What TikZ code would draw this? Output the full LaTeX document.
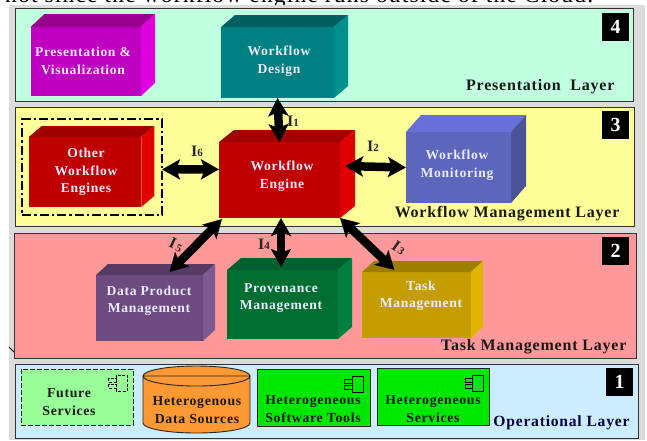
\documentclass[tikz,border=0pt]{standalone}
\usepackage{fontspec}
\setmainfont[LetterSpace=5]{Liberation Serif}
\usetikzlibrary{arrows.meta}
\definecolor{pagegray}{HTML}{DCDCDC}
\definecolor{layerfour}{HTML}{C0FFE0}
\definecolor{layerthree}{HTML}{FFFF99}
\definecolor{layertwo}{HTML}{FF9999}
\definecolor{layerone}{HTML}{CCECFF}
\tikzset{layer/.style = {draw=black!80,line width=0.9pt,inner sep=0,outer sep=0}}
\tikzset{block/.style = {inner sep=0,outer sep=0}}
\tikzset{blocktext/.style = {text=white!92!blue,align=center,font=\fontsize{13.6}{17.5}\selectfont\bfseries}}
\tikzset{darktext/.style = {text=black!90,align=center,font=\fontsize{13.8}{17.5}\selectfont\bfseries}}
\tikzset{layername/.style = {text=black!90,anchor=east,font=\fontsize{16}{18}\selectfont\bfseries}}
\tikzset{number/.style = {fill=black,text=white,inner sep=0,minimum width=27,minimum height=28,font=\fontsize{20}{20}\selectfont\bfseries}}
\tikzset{service/.style = {draw=black!85,line width=0.9pt,inner sep=0,outer sep=0}}
\tikzset{iface/.style = {text=black!85,font=\fontsize{16}{16}\selectfont\bfseries}}
\tikzset{bigarrow/.style = {{Stealth[length=18pt,width=20pt,inset=4pt]}-{Stealth[length=18pt,width=20pt,inset=4pt]},line width=8.5pt,black}}
\tikzset{pics/compicon/.style = {code = {
	\draw[line width=0.8pt] (-3.5,-8) rectangle (7.5,8);
	\draw[line width=0.8pt] (-11,-5) rectangle (-3.5,-1);
	\draw[line width=0.8pt] (-11,1) rectangle (-3.5,5);
}}}

\begin{document}
\begin{tikzpicture}[x=1pt,y=-1pt]
		\useasboundingbox (0,0) rectangle (647,440);
		\clip (0,0) rectangle (647,440);
		\node[anchor=base west,inner sep=0,font=\fontsize{23.5}{24}\selectfont] (caption) at (5,2) {not since the workflow engine runs outside of the Cloud.};
		\fill[pagegray] (9,5) rectangle (645,440);
		\draw[line width=0.8pt] (9,347) -- (14,352);

		% layers
		\node[layer,fill=layerfour,minimum width=617.5,minimum height=93] (presentation) at (324.25,54.5) {};
		\node[layer,fill=layerthree,minimum width=618.5,minimum height=119] (management) at (324.75,166.5) {};
		\node[layer,fill=layertwo,minimum width=622,minimum height=125] (task) at (325.5,295.5) {};
		\node[layer,fill=layerone,minimum width=622.5,minimum height=74] (operational) at (326.75,401) {};
		\node[number] (four) at (615.5,27) {4};
		\node[number] (three) at (615.5,125) {3};
		\node[number] (two) at (615.5,251) {2};
		\node[number] (one) at (619.5,382) {1};
		\node[layername] (presname) at (618,87) {Presentation~ Layer};
		\node[layername] (mgmtname) at (623,214) {Workflow Management Layer};
		\node[layername] (taskname) at (630,347) {Task Management Layer};
		\node[layername,text=black!75!blue,font=\fontsize{15.6}{18}\selectfont\bfseries] (opername) at (633,423) {Operational Layer};

		% blocks
		\node[block,fill={rgb,255:red,192;green,0;blue,192},minimum width=110.5,minimum height=69] (visual) at (85.75,61.5) {};
		\node[block,fill={rgb,255:red,0;green,128;blue,128},minimum width=113,minimum height=71] (design) at (277.5,62.5) {};
		\node[draw,line width=1.5pt,dash pattern=on 9pt off 3pt on 2.5pt off 3pt,minimum width=140,minimum height=96,inner sep=0,outer sep=0] (otherframe) at (92,167) {};
		\node[block,fill={rgb,255:red,192;green,0;blue,0},minimum width=112.5,minimum height=70] (other) at (85,172) {};
		\node[block,fill={rgb,255:red,192;green,0;blue,0},minimum width=121,minimum height=76] (engine) at (279.5,180) {};
		\node[block,fill={rgb,255:red,91;green,102;blue,188},minimum width=105,minimum height=71] (monitor) at (458.5,167.5) {};
		\node[block,fill={rgb,255:red,109;green,74;blue,128},minimum width=107,minimum height=66] (dataprod) at (149.5,308) {};
		\node[block,fill={rgb,255:red,0;green,110;blue,48},minimum width=111,minimum height=69] (prov) at (282.5,304.5) {};
		\node[block,fill={rgb,255:red,196;green,158;blue,0},minimum width=109,minimum height=66] (taskblk) at (416.5,305) {};
		\foreach \blk/\dx/\dy/\topr/\topg/\topb/\sider/\sideg/\sideb in {
			visual/14/13/153/0/144/224/0/224,
			design/14/12/0/96/96/0/144/144,
			other/13/11/160/0/0/224/0/0,
			engine/15/12/160/0/0/224/0/0,
			monitor/15/17/102/112/216/74/83/150,
			dataprod/12/11/86/58/99/124/90/148,
			prov/14/12/0/96/48/0/128/64,
			taskblk/12/11/156/127/0/224/180/0}{
			\fill[fill={rgb,255:red,\topr;green,\topg;blue,\topb}] (\blk.north west) -- ++(\dx,-\dy) -- ([shift={(\dx,-\dy)}]\blk.north east) -- (\blk.north east) -- cycle;
			\fill[fill={rgb,255:red,\sider;green,\sideg;blue,\sideb}] (\blk.north east) -- ++(\dx,-\dy) -- ([shift={(\dx,-\dy)}]\blk.south east) -- (\blk.south east) -- cycle;
		}
		\node[blocktext] (visualtext) at (83,61) {Presentation \&\\Visualization};
		\node[blocktext] (designtext) at (279,61) {Workflow\\Design};
		\node[blocktext] (othertext) at (86,172) {Other\\Workflow\\Engines};
		\node[blocktext] (enginetext) at (282,176) {Workflow\\Engine};
		\node[blocktext] (monitortext) at (457,165) {Workflow\\Monitoring};
		\node[blocktext] (dataprodtext) at (149,301) {Data Product\\Management};
		\node[blocktext] (provtext) at (281,298) {Provenance\\Management};
		\node[blocktext] (tasktext) at (421,296) {Task\\Management};

		% services
		\node[service,dash pattern=on 5pt off 2pt,fill={rgb,255:red,153;green,255;blue,153},minimum width=112,minimum height=56] (future) at (77,397) {};
		\node[block,minimum width=107,minimum height=47] (sources) at (196.5,399.5) {};
		\draw[draw=black!85,line width=0.9pt,fill={rgb,255:red,255;green,153;blue,51}] (sources.north west) -- (sources.south west) arc[start angle=180,end angle=360,x radius=53.5pt,y radius=10pt] -- (sources.north east) arc[start angle=0,end angle=360,x radius=53.5pt,y radius=10pt] -- cycle;
		\node[service,fill={rgb,255:red,0;green,232;blue,0},minimum width=113,minimum height=57] (software) at (313.5,397.5) {};
		\node[service,fill={rgb,255:red,0;green,232;blue,0},minimum width=112,minimum height=57] (services) at (433,396.5) {};
		\pic[dash pattern=on 3pt off 1.5pt] at ([shift={(-13.5,14)}]future.north east) {compicon};
		\pic at ([shift={(-14.5,15)}]software.north east) {compicon};
		\pic at ([shift={(-13,15)}]services.north east) {compicon};
		\node[darktext] (futuretext) at (69,402) {Future\\Services};
		\node[darktext] (sourcestext) at (197,410) {Heterogenous\\Data Sources};
		\node[darktext] (softwaretext) at (313,409) {Heterogeneous\\Software Tools};
		\node[darktext] (servicestext) at (433,409) {Heterogeneous\\Services};

		% interfaces
		\draw[bigarrow] (design.south) -- (engine.north);
		\draw[bigarrow] (otherframe.-2) -- (engine.170);
		\draw[bigarrow] ([xshift=5pt]engine.13) -- (monitor.west);
		\draw[bigarrow] ([shift={(-22,-2)}]taskblk.north) -- (engine.south east);
		\draw[bigarrow] ([xshift=1.5pt]engine.south) -- ([shift={(-1.5,-3)}]prov.north);
		\draw[bigarrow] ([shift={(3,1)}]engine.south west) -- ([shift={(20,-3)}]dataprod.north);
		\node[iface] (ione) at (293,121) {I{\fontsize{11}{11}\selectfont 1}};
		\node[iface] (itwo) at (373,146) {I{\fontsize{11}{11}\selectfont 2}};
		\node[iface,rotate=-35] (ithree) at (399,248) {I\kern1.5pt{\fontsize{11}{11}\selectfont 3}};
		\node[iface] (ifour) at (264,244) {I{\fontsize{11}{11}\selectfont 4}};
		\node[iface,rotate=-25] (ifive) at (176,245) {I\kern1.5pt{\fontsize{11}{11}\selectfont 5}};
		\node[iface] (isix) at (197,151) {I{\fontsize{11}{11}\selectfont 6}};
	\end{tikzpicture}
\end{document}
